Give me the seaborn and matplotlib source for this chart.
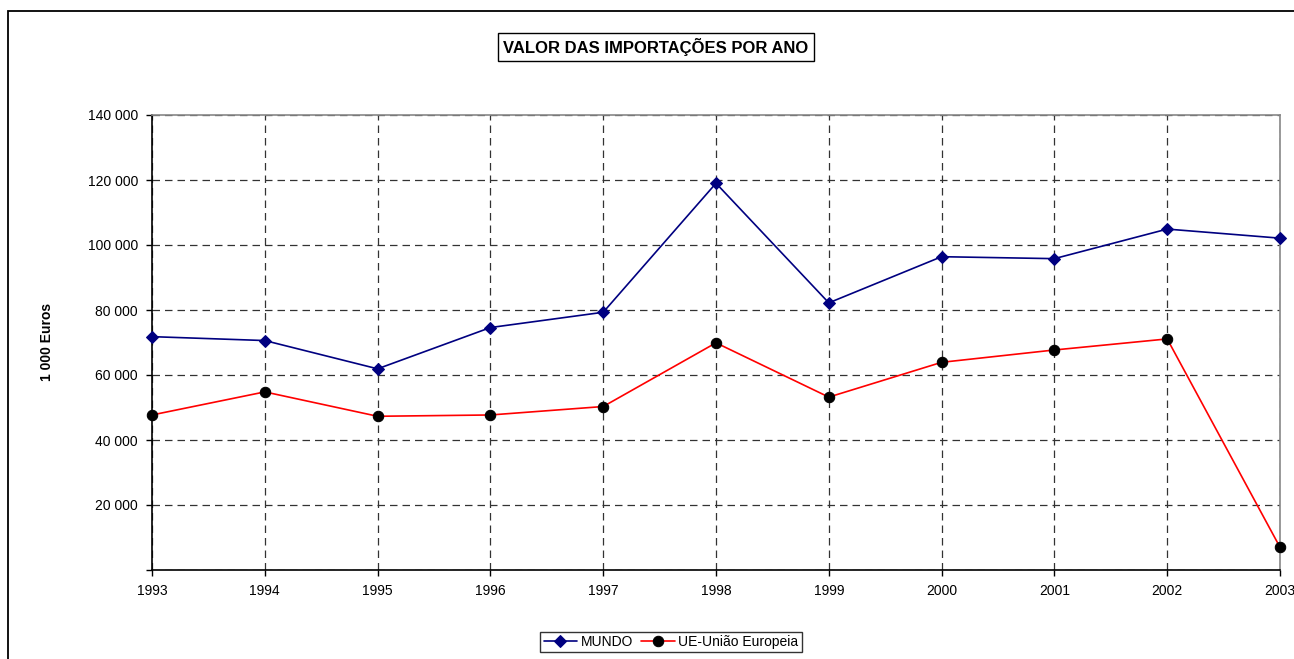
import matplotlib
matplotlib.use("Agg")
import matplotlib.pyplot as plt
import seaborn as sns
import pandas as pd
from matplotlib.ticker import FuncFormatter, MultipleLocator
from matplotlib.patches import Rectangle

years = [1993, 1994, 1995, 1996, 1997, 1998, 1999, 2000, 2001, 2002, 2003]
mundo = [71800, 70600, 61900, 74600, 79300, 119000, 82200, 96400, 95800, 104900, 102100]
ue = [47700, 54800, 47300, 47700, 50300, 69900, 53200, 63900, 67700, 71100, 7000]

title = "VALOR DAS IMPORTAÇÕES POR ANO"
ylabel = "1 000 Euros"
label_mundo = "MUNDO"
label_ue = "UE-União Europeia"

sns.set_style("white")
plt.rcParams['font.family'] = ['Liberation Sans', 'DejaVu Sans']
plt.rcParams['text.color'] = 'black'

W, H = 1294, 659
fig = plt.figure(figsize=(W / 100, H / 100), dpi=100)
ax = fig.add_axes([152 / W, 1 - 570 / H, (1280 - 152) / W, (570 - 115) / H])

df_m = pd.DataFrame({"Ano": years, "Valor": mundo})
df_u = pd.DataFrame({"Ano": years, "Valor": ue})

sns.lineplot(data=df_m, x="Ano", y="Valor", ax=ax, color="#000080", linewidth=1.2,
             marker="D", markersize=6, markerfacecolor="#000080", markeredgecolor="#000080",
             label=label_mundo, clip_on=False, zorder=5)
sns.lineplot(data=df_u, x="Ano", y="Valor", ax=ax, color="#ff0000", linewidth=1.2,
             marker="o", markersize=7.5, markerfacecolor="black", markeredgecolor="black",
             label=label_ue, clip_on=False, zorder=6)

ax.set_xlim(1993, 2003)
ax.set_ylim(0, 140000)
ax.xaxis.set_major_locator(MultipleLocator(1))
ax.yaxis.set_major_locator(MultipleLocator(20000))
ax.xaxis.set_major_formatter(FuncFormatter(lambda v, p: f"{int(round(v))}"))
ax.yaxis.set_major_formatter(FuncFormatter(lambda v, p: "" if v == 0 else f"{int(v):,}".replace(",", " ")))

ax.grid(True, which="major", axis="both", color="#333333", linestyle=(0, (6, 4)), linewidth=0.9)
ax.set_axisbelow(True)

for s in ["left", "bottom"]:
    ax.spines[s].set_color("black")
    ax.spines[s].set_linewidth(1.2)
for s in ["top", "right"]:
    ax.spines[s].set_color("#888888")
    ax.spines[s].set_linewidth(1.2)

ax.tick_params(axis="both", which="major", direction="out", length=4, width=1, color="black",
               labelsize=10, labelcolor="black", pad=6, bottom=True, left=True)
ax.set_xlabel("")
ax.set_ylabel("")

fig.text(47 / W, 1 - 342 / H, ylabel, rotation=90, ha="center", va="center",
         fontsize=10, fontweight="bold", color="black")

fig.text(656 / W, 1 - 47 / H, title, ha="center", va="center", fontsize=12, fontweight="bold",
         color="black",
         bbox=dict(boxstyle="square,pad=0.3", facecolor="white", edgecolor="black", linewidth=1))

leg = ax.legend(loc="center", bbox_to_anchor=(671 / W, 1 - 642 / H), bbox_transform=fig.transFigure,
                ncol=2, frameon=True, fancybox=False, fontsize=10, handlelength=2.4,
                columnspacing=0.6, handletextpad=0.25, borderpad=0.25, borderaxespad=0)
leg.get_frame().set_edgecolor("black")
leg.get_frame().set_linewidth(1)
for t in leg.get_texts():
    t.set_color("black")

fig.patches.append(Rectangle((8 / W, -0.1), 1.2, 1 - 11 / H + 0.1, transform=fig.transFigure,
                             fill=False, edgecolor="black", linewidth=1.3, figure=fig))

fig.savefig("out.png", dpi=100)
